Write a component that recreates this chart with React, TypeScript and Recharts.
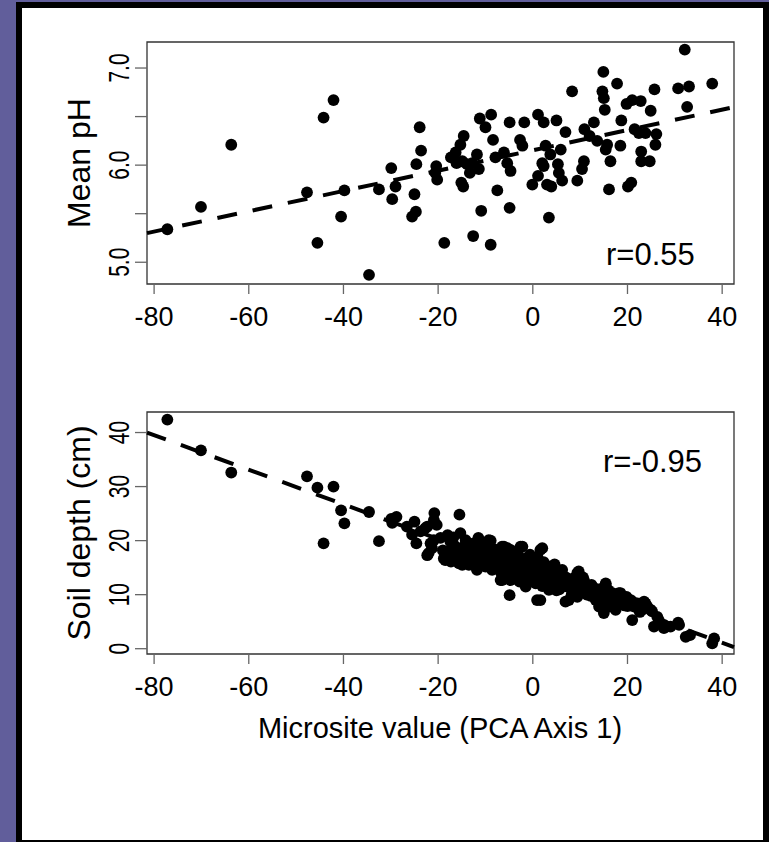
import React from 'react';
import { ScatterChart, Scatter, XAxis, YAxis, ReferenceLine, ReferenceArea, Customized } from 'recharts';

const FONT = '"Liberation Sans", Arial, Helvetica, sans-serif';

// axis ticks
const xTicks = [-80, -60, -40, -20, 0, 20, 40];
const phTicks = [5.0, 5.5, 6.0, 6.5, 7.0];
const depthTicks = [0, 10, 20, 30, 40];
const xDomain: [number, number] = [-81.5, 42.5];
const phDomain: [number, number] = [4.776, 7.268];
const depthDomain: [number, number] = [-0.98, 43.8];

// top panel: microsite value vs mean pH
const phPoints: [number, number][] = [
  [-77.2, 5.34], [-70.1, 5.57], [-63.7, 6.21], [-47.7, 5.72], [-45.5, 5.2], [-44.2, 6.49], [-42.1, 6.67],
  [-40.5, 5.47], [-39.8, 5.74], [-34.6, 4.87], [-32.5, 5.75], [-29.9, 5.97], [-29.7, 5.65], [-29.0, 5.78],
  [-25.5, 5.47], [-25.0, 5.7], [-24.7, 5.52], [-24.6, 6.01], [-23.9, 6.39], [-23.6, 6.15], [-20.4, 5.99],
  [-20.2, 5.85], [-20.6, 5.92], [-18.7, 5.2], [-17.3, 6.08], [-16.3, 6.13], [-16.1, 6.02], [-15.3, 6.21],
  [-14.6, 6.3], [-15.1, 5.82], [-14.7, 5.78], [-14.9, 6.04], [-13.9, 6.01], [-13.3, 5.92], [-12.8, 6.02],
  [-12.6, 5.27], [-11.8, 6.11], [-11.4, 5.96], [-11.2, 6.48], [-10.9, 5.53], [-10.0, 6.39], [-8.9, 5.18],
  [-8.8, 6.52], [-8.4, 6.26], [-7.9, 6.08], [-7.5, 5.74], [-6.1, 6.13], [-5.4, 6.02], [-4.9, 6.44],
  [-4.9, 5.56], [-4.7, 5.94], [-2.7, 6.26], [-2.2, 6.2], [-1.8, 6.44], [-0.1, 5.8], [1.1, 6.52], [1.1, 5.89],
  [2.0, 6.02], [2.3, 6.44], [2.3, 5.99], [2.7, 6.2], [3.0, 5.8], [3.4, 5.46], [3.7, 6.11], [3.9, 5.78],
  [5.0, 6.46], [5.3, 6.01], [5.5, 5.92], [5.9, 6.16], [6.2, 5.84], [6.9, 6.34], [8.3, 6.76], [9.4, 5.84],
  [10.4, 5.96], [10.8, 6.04], [10.9, 6.37], [12.0, 6.3], [12.9, 6.44], [13.6, 6.25], [14.7, 6.76],
  [14.9, 6.96], [15.0, 6.69], [15.2, 6.57], [15.4, 6.16], [15.7, 6.21], [16.1, 5.75], [16.4, 6.04],
  [17.8, 6.84], [18.5, 6.2], [18.7, 6.46], [19.8, 6.63], [20.1, 5.78], [20.8, 5.82], [21.0, 6.67],
  [21.5, 6.37], [22.4, 6.33], [22.8, 6.66], [22.9, 6.14], [22.9, 6.04], [23.8, 6.33], [24.7, 6.04],
  [24.9, 6.56], [25.7, 6.78], [25.9, 6.21], [26.1, 6.32], [30.7, 6.79], [32.1, 7.19], [32.6, 6.6],
  [33.0, 6.81], [37.9, 6.84],
];

// bottom panel: microsite value vs soil depth (cm)
const depthPoints: [number, number][] = [
  [-77.2, 42.4], [-70.1, 36.7], [-63.7, 32.6], [-47.7, 31.9], [-45.5, 29.8], [-44.2, 19.5], [-42.1, 30.0],
  [-40.5, 25.6], [-39.8, 23.2], [-34.6, 25.3], [-32.5, 19.9], [-29.9, 24.0], [-28.8, 24.4], [-29.7, 23.3],
  [-26.6, 22.6], [-25.0, 23.5], [-24.6, 19.5], [-25.5, 21.1], [-23.7, 21.7], [-22.7, 22.3], [-22.3, 17.3],
  [-21.3, 18.6], [-20.8, 25.1], [-20.9, 23.8], [-20.3, 22.9], [-22.3, 22.6], [-20.9, 20.1], [-21.6, 19.5],
  [-22.0, 17.7], [-19.5, 20.5], [-18.8, 16.7], [-18.5, 16.4], [-18.0, 21.0], [-17.4, 19.8], [-17.3, 16.1],
  [-16.5, 19.0], [-16.0, 17.5], [-15.5, 24.8], [-15.3, 21.4], [-14.6, 18.9], [-14.2, 20.1], [-14.9, 15.5],
  [-15.6, 15.8], [-13.8, 17.8], [-13.5, 15.5], [-13.2, 16.4], [-12.8, 19.2], [-12.5, 19.5], [-12.0, 17.0],
  [-11.8, 14.6], [-11.8, 14.9], [-11.5, 20.5], [-11.1, 18.3], [-10.6, 19.0], [-10.4, 16.4], [-10.0, 15.2],
  [-9.8, 17.8], [-9.3, 20.1], [-9.0, 18.8], [-8.9, 20.0], [-8.6, 17.3], [-8.6, 16.7], [-8.6, 14.6],
  [-7.8, 16.0], [-7.5, 17.9], [-7.0, 15.0], [-6.8, 12.7], [-6.5, 18.9], [-6.1, 18.9], [-6.5, 17.0],
  [-6.5, 12.7], [-5.8, 15.8], [-5.5, 17.2], [-5.4, 18.6], [-5.1, 13.0], [-4.9, 9.9], [-4.7, 18.3],
  [-4.7, 12.7], [-4.4, 15.3], [-4.0, 16.4], [-3.7, 16.4], [-3.7, 14.6], [-3.2, 17.8], [-3.0, 15.8],
  [-2.8, 12.4], [-2.6, 18.9], [-2.6, 14.9], [-2.2, 13.3], [-2.2, 18.9], [-1.9, 15.2], [-1.5, 16.7],
  [-1.5, 12.1], [-1.5, 11.5], [-1.0, 13.5], [-0.8, 14.3], [-0.6, 17.4], [-0.5, 16.4], [-0.1, 14.0],
  [-0.1, 15.8], [0.2, 15.0], [0.4, 13.2], [0.6, 12.1], [0.9, 9.0], [1.0, 16.9], [1.3, 14.6], [1.6, 18.3],
  [1.6, 12.7], [1.6, 9.0], [1.9, 14.0], [2.0, 18.6], [2.3, 16.0], [2.7, 15.2], [2.7, 12.7], [3.0, 13.6],
  [3.4, 10.9], [3.4, 15.2], [3.6, 12.2], [4.0, 13.4], [4.1, 11.5], [4.4, 14.3], [4.6, 15.6], [4.8, 14.0],
  [5.2, 12.6], [5.6, 11.0], [5.9, 13.0], [6.0, 13.6], [6.2, 14.6], [6.9, 8.7], [6.9, 12.1], [7.0, 13.2],
  [7.3, 11.5], [7.6, 9.0], [7.8, 12.4], [8.0, 11.6], [8.3, 10.9], [8.6, 13.0], [9.0, 10.2], [9.4, 14.0],
  [9.4, 9.6], [9.7, 12.7], [9.7, 14.3], [10.0, 11.9], [10.4, 11.2], [10.4, 10.9], [10.8, 12.7],
  [11.0, 12.0], [11.5, 10.3], [11.8, 11.4], [12.2, 9.8], [12.6, 10.9], [12.9, 10.3], [13.0, 11.2],
  [13.3, 9.0], [13.8, 10.4], [14.0, 7.8], [14.2, 11.0], [14.7, 9.0], [15.0, 6.6], [15.4, 11.8],
  [15.4, 12.1], [15.8, 9.6], [16.1, 7.8], [16.4, 8.6], [16.8, 9.6], [16.8, 10.3], [17.0, 9.2], [17.5, 7.2],
  [18.2, 10.3], [18.5, 10.3], [18.9, 8.4], [19.4, 8.0], [19.8, 9.6], [20.3, 9.0], [20.7, 9.0], [21.0, 5.3],
  [21.6, 7.9], [22.1, 8.4], [22.6, 6.8], [23.1, 7.2], [23.5, 8.7], [23.8, 8.4], [24.9, 7.2], [25.2, 6.9],
  [25.6, 4.1], [26.3, 5.9], [26.6, 5.3], [27.7, 3.8], [27.7, 4.4], [29.1, 4.1], [30.7, 4.8], [30.9, 4.4],
  [32.3, 2.2], [33.2, 2.5], [37.9, 1.0], [38.3, 1.9],
  [-19.0, 18.2], [-17.8, 18.0], [-16.8, 20.6], [-15.8, 18.3], [-14.4, 16.8], [-13.0, 18.1], [-12.3, 15.8],
  [-11.0, 16.9], [-10.2, 18.0], [-9.5, 15.9], [-8.2, 18.4], [-7.2, 16.6], [-6.8, 14.2], [-6.0, 16.5],
  [-5.0, 14.5], [-4.2, 17.2], [-3.5, 13.8], [-2.4, 16.2], [-1.8, 14.1], [-1.2, 15.6], [-0.3, 12.8],
  [0.5, 16.2], [1.2, 13.6], [2.0, 11.6], [2.5, 13.3], [3.2, 14.4], [4.3, 12.8], [5.0, 10.8], [5.8, 14.0],
  [6.5, 11.6], [7.4, 12.8], [8.2, 10.0], [8.8, 12.0], [9.9, 10.6], [10.6, 13.2], [11.4, 10.0], [12.4, 11.8],
  [13.5, 9.6], [14.5, 10.2], [15.2, 8.4], [16.0, 10.8], [17.2, 8.2], [18.0, 9.0], [19.0, 9.2], [20.0, 7.9],
  [21.2, 8.6], [22.4, 7.6], [24.2, 7.8],
];

// fitted lines, read at the panel edges
const phFit = [{ x: -81.5, y: 5.3 }, { x: 42.5, y: 6.597 }];
const depthFit = [{ x: -81.5, y: 40.0 }, { x: 42.5, y: 0.3 }];

const toXY = (pts: [number, number][]) => pts.map(([x, y]) => ({ x, y }));

const Dot = (props: any) => <circle cx={props.cx} cy={props.cy} r={5.9} fill="#000" />;

const XTick = ({ x, y, payload }: any) => (
  <text x={x} y={y + 32} textAnchor="middle" fontSize={27} fontFamily={FONT} fill="#000">
    {payload.value}
  </text>
);

const makeYTick = (digits: number, labelled: (v: number) => boolean) => ({ x, y, payload }: any) => {
  if (!labelled(payload.value)) return <g />;
  return (
    <text
      transform={`translate(${x - 6.5},${y}) rotate(-90) scale(0.7,1)`}
      textAnchor="middle"
      fontSize={30}
      fontFamily={FONT}
      fill="#000"
    >
      {payload.value.toFixed(digits)}
    </text>
  );
};

const PhTick = makeYTick(1, (v) => Math.abs(v - Math.round(v)) < 1e-6);
const DepthTick = makeYTick(0, () => true);

const W = 769;
const MARGIN = { top: 42, right: 35, bottom: 0, left: 0 };

const Panel = ({ height, xAxisHeight, data, fit, yDomain, yTicks, YTickComp, title, rText, rPos, xTitle }: any) => (
  <ScatterChart width={W} height={height} margin={MARGIN}>
    <XAxis
      type="number"
      dataKey="x"
      domain={xDomain}
      ticks={xTicks}
      interval={0}
      allowDataOverflow
      axisLine={false}
      tickSize={10}
      tickMargin={0}
      tickLine={{ stroke: '#666', strokeWidth: 1.3 }}
      height={xAxisHeight}
      tick={<XTick />}
    />
    <YAxis
      type="number"
      dataKey="y"
      domain={yDomain}
      ticks={yTicks}
      interval={0}
      allowDataOverflow
      axisLine={false}
      tickSize={12}
      tickMargin={0}
      tickLine={{ stroke: '#666', strokeWidth: 1.3 }}
      width={147}
      tick={<YTickComp />}
    />
    <ReferenceArea
      x1={xDomain[0]}
      x2={xDomain[1]}
      y1={yDomain[0]}
      y2={yDomain[1]}
      fill="none"
      fillOpacity={0}
      stroke="#333"
      strokeWidth={1.3}
      ifOverflow="visible"
    />
    <ReferenceLine
      segment={fit}
      stroke="#000"
      strokeWidth={4}
      strokeDasharray="20 16"
      ifOverflow="visible"
    />
    <Scatter data={toXY(data)} shape={<Dot />} isAnimationActive={false} />
    <Customized
      component={() => (
        <g fontFamily={FONT} fill="#000">
          <text transform={`translate(90,${height - xAxisHeight - 121}) rotate(-90)`} textAnchor="middle" fontSize={32}>
            {title}
          </text>
          <text x={rPos[0]} y={rPos[1]} fontSize={31}>
            {rText}
          </text>
          {xTitle ? (
            <text x={440} y={height - xAxisHeight + 84} textAnchor="middle" fontSize={29}>
              {xTitle}
            </text>
          ) : null}
        </g>
      )}
    />
  </ScatterChart>
);

export default function App() {
  return (
    <div
      style={{
        position: 'absolute',
        left: 0,
        top: 0,
        width: 769,
        height: 842,
        background: '#615e9b',
        overflow: 'hidden',
        fontFamily: FONT,
      }}
    >
      <div
        style={{
          position: 'absolute',
          left: 16,
          top: 2,
          width: 753,
          height: 844,
          border: '6px solid #000',
          boxSizing: 'border-box',
          background: '#fff',
        }}
      />
      <div style={{ position: 'absolute', left: 0, top: 0 }}>
        <Panel
          height={370}
          xAxisHeight={86}
          data={phPoints}
          fit={phFit}
          yDomain={phDomain}
          yTicks={phTicks}
          YTickComp={PhTick}
          title="Mean pH"
          rText="r=0.55"
          rPos={[606, 265]}
        />
      </div>
      <div style={{ position: 'absolute', left: 0, top: 370 }}>
        <Panel
          height={390}
          xAxisHeight={106}
          data={depthPoints}
          fit={depthFit}
          yDomain={depthDomain}
          yTicks={depthTicks}
          YTickComp={DepthTick}
          title="Soil depth (cm)"
          rText="r=-0.95"
          rPos={[603, 102]}
          xTitle="Microsite value (PCA Axis 1)"
        />
      </div>
    </div>
  );
}
